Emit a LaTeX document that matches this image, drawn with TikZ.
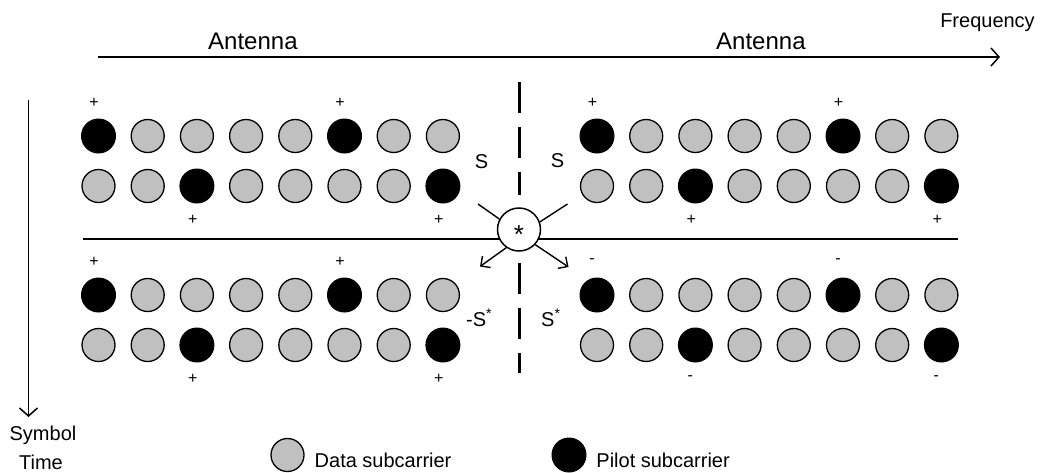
\documentclass[tikz,border=0pt]{standalone}
\usepackage{fontspec}
\setmainfont{Liberation Sans}
\usetikzlibrary{arrows.meta}
\definecolor{datagray}{HTML}{C0C0C0}
\begin{document}
\begin{tikzpicture}[x=1pt,y=-1pt,
  datasc/.style={circle, draw=black, fill=datagray, line width=1.3pt, minimum size=33pt, inner sep=0pt},
  pilotsc/.style={circle, draw=black, fill=black, line width=1pt, minimum size=34pt, inner sep=0pt},
  sign/.style={font=\fontsize{16}{16}\selectfont, inner sep=0pt},
  lbl/.style={font=\fontsize{20}{24}\selectfont, inner sep=0pt},
  axis/.style={line width=1.5pt, -{Straight Barb[length=8pt,width=18pt,line width=1.5pt]}},
  spoke/.style={line width=1.4pt},
  spokearrow/.style={line width=1.4pt, -{Straight Barb[length=7pt,width=14pt,line width=1.4pt]}},
  divider/.style={line width=3.5pt, dash pattern=on 31pt off 14pt}
]
\useasboundingbox (0,0) rectangle (1041,472);

% axes
\coordinate (fstart) at (98,57);
\coordinate (fend) at (1000,57);
\draw[axis] (fstart) -- (fend);
\coordinate (tstart) at (28.5,100);
\coordinate (tend) at (28.5,417);
\draw[axis] (tstart) -- (tend);

\node[anchor=base west, font=\fontsize{24}{28}\selectfont, inner sep=0pt] (antL) at (208,49) {Antenna};
\node[anchor=base west, font=\fontsize{24}{28}\selectfont, inner sep=0pt] (antR) at (716,49) {Antenna};
\node[lbl, anchor=base] (freq) at (987.5,27) {Frequency};
\node[lbl, anchor=base] (sym) at (43,440.5) {Symbol};
\node[lbl, anchor=base] (tim) at (41,469) {Time};

% subcarrier grids
\foreach \b/\xo in {L/98.5, R/597}{
  \foreach \r/\yy in {1/136, 3/295}{
    \foreach \c in {0,5} \node[pilotsc] (\b\r-\c) at (\xo+49.2*\c,\yy) {};
    \foreach \c in {1,2,3,4,6,7} \node[datasc] (\b\r-\c) at (\xo+49.2*\c,\yy) {};
  }
  \foreach \r/\yy in {2/186, 4/345}{
    \foreach \c in {2,7} \node[pilotsc] (\b\r-\c) at (\xo+49.2*\c,\yy) {};
    \foreach \c in {0,1,3,4,5,6} \node[datasc] (\b\r-\c) at (\xo+49.2*\c,\yy) {};
  }
}

% signs above odd rows, below even rows
\foreach \b/\xo/\s in {L/98.5/+, R/597/+}{
  \foreach \c in {0,5} \node[sign] (p\b1-\c) at (\xo+49.2*\c-4.5,103) {\s};
  \foreach \c in {2,7} \node[sign] (p\b2-\c) at (\xo+49.2*\c-4,220) {\s};
}
\foreach \c in {0,5} \node[sign] (pL3-\c) at (98.5+49.2*\c-4.5,262) {+};
\foreach \c in {2,7} \node[sign] (pL4-\c) at (98.5+49.2*\c-4,379) {+};
\foreach \c in {0,5} \node[sign] (pR3-\c) at (597+49.2*\c-5,261) {-};
\foreach \c in {2,7} \node[sign] (pR4-\c) at (597+49.2*\c-5,378) {-};

% horizontal separator
\coordinate (hl) at (83,239);
\coordinate (hr) at (958,239);
\draw[line width=1.5pt] (hl) -- (hr);

% vertical dashed divider
\coordinate (d1) at (519.5,82);
\coordinate (d2) at (519.5,195);
\coordinate (d3) at (519.5,263);
\coordinate (d4) at (519.5,373);
\draw[divider] (d1) -- (d2);
\draw[divider] (d3) -- (d4);

% centre combiner
\node[circle, draw=black, fill=white, line width=1.5pt, minimum size=43pt, inner sep=0pt] (c) at (519,229.5) {};
\node[font=\fontsize{26}{26}\selectfont, inner sep=0pt, yshift=-5.5pt] (cstar) at (c) {*};
\coordinate (ul) at (478,204);
\coordinate (ur) at (567.5,204);
\coordinate (ll) at (480,266.5);
\coordinate (lr) at (568.5,267);
\draw[spoke] (ul) -- (c.152);
\draw[spoke] (ur) -- (c.20);
\draw[spokearrow] (c.235) -- (ll);
\draw[spokearrow] (c.317) -- (lr);

% S labels
\node[lbl, anchor=base] (sL) at (481.5,168) {S};
\node[lbl, anchor=base] (sR) at (557.5,167) {S};
\node[lbl, anchor=base west] (ssL) at (466,326) {-S\textsuperscript{*}};
\node[lbl, anchor=base west] (ssR) at (541,326) {S\textsuperscript{*}};

% legend
\node[datasc] (legd) at (287.5,455) {};
\node[lbl, anchor=base west] (legdt) at (314.5,467) {Data subcarrier};
\node[pilotsc] (legp) at (569,455) {};
\node[lbl, anchor=base east] (legpt) at (730,467) {Pilot subcarrier};
\end{tikzpicture}
\end{document}
